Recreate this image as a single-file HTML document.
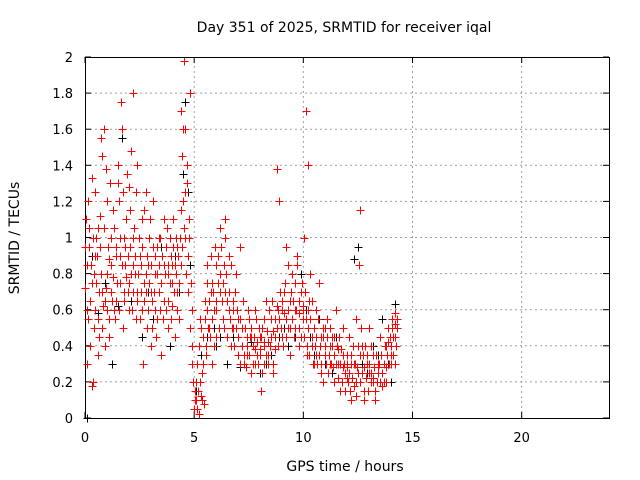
<!DOCTYPE html>
<html><head><meta charset="utf-8">
<style>
html,body{margin:0;padding:0;background:#fff;}
svg{display:block;font-family:"DejaVu Sans","Liberation Sans",sans-serif;font-size:13px;}
</style></head>
<body>
<svg id="chart" width="640" height="480">
<rect x="0" y="0" width="640" height="480" fill="#fff"/>
<text x="344" y="32" text-anchor="middle" font-size="14">Day 351 of 2025, SRMTID for receiver iqal</text>
<g id="grid"></g>
<g id="axes"></g>
<g id="marks"></g>
<text x="345" y="471" text-anchor="middle" font-size="14">GPS time / hours</text>
<text transform="translate(19,238) rotate(-90)" text-anchor="middle" font-size="14">SRMTID / TECUs</text>
</svg>
<script>
const xTicks=[0,5,10,15,20];
const yTicks=[0,0.2,0.4,0.6,0.8,1,1.2,1.4,1.6,1.8,2];
const yTickLabels=["0","0.2","0.4","0.6","0.8","1","1.2","1.4","1.6","1.8","2"];
const redTimes=[0,0.05,0.1,0.12,0.15,0.2,0.25,0.3,0.35,0.4,0.45,0.5,0.55,0.6,0.65,0.7,0.75,0.8,0.85,0.9,0.95,1.0,1.05,1.1,1.15,1.2,1.3,1.35,1.4,1.5,1.55,1.6,1.65,1.7,1.75,1.8,1.85,1.9,1.95,2.0,2.05,2.1,2.15,2.2,2.25,2.3,2.35,2.4,2.5,2.55,2.6,2.65,2.7,2.8,2.85,2.9,2.95,3.0,3.05,3.1,3.2,3.25,3.3,3.4,3.45,3.5,3.6,3.7,3.75,3.8,3.9,3.95,4.0,4.05,4.1,4.15,4.2,4.3,4.35,4.4,4.45,4.5,4.55,4.6,4.65,4.7,4.75,4.8,4.85,4.9,4.95,5.0,5.05,5.1,5.15,5.2,5.25,5.3,5.35,5.4,5.45,5.5,5.55,5.6,5.7,5.75,5.8,5.9,5.95,6.0,6.1,6.2,6.3,6.35,6.4,6.5,6.6,6.7,6.8,6.9,7.0,7.1,7.2,7.3,7.4,7.5,7.6,7.7,7.8,7.9,8.0,8.05,8.1,8.2,8.3,8.4,8.5,8.6,8.7,8.8,8.85,8.9,9.0,9.1,9.2,9.3,9.4,9.5,9.6,9.7,9.8,9.9,10.0,10.05,10.1,10.15,10.2,10.25,10.3,10.4,10.5,10.6,10.7,10.8,10.9,11.0,11.1,11.2,11.3,11.4,11.5,11.6,11.7,11.8,11.9,12.0,12.05,12.1,12.2,12.3,12.4,12.5,12.55,12.6,12.7,12.8,12.9,13.0,13.1,13.2,13.3,13.4,13.5,13.6,13.7,13.8,13.9,14.0,14.05,14.1,14.2,14.25,14.3,
0.1,0.3,0.45,0.6,0.8,1.0,1.2,1.4,1.6,1.8,2.0,2.2,2.4,2.6,2.8,3.0,3.2,3.4,3.6,3.8,4.0,4.2,4.4,4.6,5.6,5.8,6.0,6.2,6.4,6.6,6.8,7.0,7.2,7.4,7.6,7.8,8.0,8.2,8.4,8.6,8.8,9.0,9.2,9.4,9.6,9.8,10.0,10.2,10.4,10.6,10.8,11.0,11.2,11.4,11.6,11.8,12.0,12.2,12.4,12.6,12.8,13.0,13.2,13.4,13.6,13.8,14.0,14.2];
const redValues=[0.72,1.1,0.85,0.55,1.2,0.95,0.4,1.33,0.2,0.8,0.6,1.0,0.9,0.35,0.7,1.12,1.55,0.5,1.6,0.65,1.38,0.8,0.95,0.45,1.3,0.7,1.15,0.6,0.9,1.4,1.2,0.75,1.75,1.6,0.5,1.0,0.85,1.1,0.7,1.28,0.95,1.48,0.6,1.8,1.05,0.8,0.55,1.4,0.9,0.7,1.1,0.3,0.75,1.25,0.5,0.85,1.0,0.4,0.65,1.2,0.8,0.45,0.95,0.7,1.0,0.35,0.85,0.6,1.05,0.5,0.75,0.9,0.62,1.1,0.45,0.8,0.95,0.55,1.0,1.7,1.45,1.2,1.98,1.6,1.3,0.9,1.1,1.8,0.75,0.6,0.2,0.05,0.15,0.1,0.3,0.02,0.55,0.12,0.25,0.45,0.08,0.65,0.35,0.85,0.5,0.7,0.3,0.6,0.95,0.45,0.75,1.05,0.55,0.85,1.1,0.65,0.9,0.4,0.6,0.8,0.35,0.95,0.5,0.3,0.45,0.55,0.25,0.4,0.6,0.35,0.45,0.15,0.5,0.3,0.65,0.42,0.55,0.25,0.38,1.38,0.6,1.2,0.45,0.7,0.95,0.5,0.35,0.8,0.6,0.9,0.4,0.7,0.55,1.0,1.7,0.35,1.4,0.65,0.8,0.45,0.3,0.6,0.75,0.25,0.5,0.35,0.55,0.3,0.45,0.2,0.6,0.38,0.15,0.5,0.25,0.35,0.2,0.45,0.1,0.3,0.55,0.25,0.85,1.15,0.4,0.15,0.3,0.5,0.2,0.35,0.1,0.28,0.45,0.18,0.3,0.4,0.5,0.35,0.55,0.45,0.58,0.4,0.5,
0.6,0.75,0.9,0.55,0.7,0.6,0.85,0.65,0.9,0.7,0.75,0.85,0.7,0.6,0.8,0.7,0.6,0.85,0.65,0.8,0.75,0.7,0.85,1.0,0.6,0.75,0.65,0.8,0.7,0.6,0.5,0.55,0.4,0.35,0.45,0.3,0.38,0.42,0.35,0.48,0.5,0.6,0.55,0.65,0.5,0.58,0.62,0.5,0.4,0.35,0.45,0.5,0.4,0.35,0.3,0.28,0.22,0.3,0.2,0.35,0.28,0.25,0.22,0.3,0.25,0.2,0.3,0.45];
const redTimes2=[0.02,0.07,0.18,0.22,0.28,0.33,0.38,0.42,0.48,0.52,0.58,0.62,0.68,0.72,0.78,0.82,0.88,0.92,0.98,1.02,1.08,1.12,1.18,1.22,1.28,1.32,1.38,1.42,1.48,1.52,1.58,1.62,1.68,1.72,1.78,1.82,1.88,1.92,1.98,
2.02,2.08,2.12,2.18,2.22,2.28,2.32,2.38,2.42,2.48,2.52,2.58,2.62,2.68,2.72,2.78,2.82,2.88,2.92,2.98,3.02,3.08,3.12,3.18,3.22,3.28,3.32,3.38,3.42,3.48,3.52,3.58,3.62,3.68,3.72,3.78,3.82,3.88,3.92,3.98,4.02,4.08,4.12,4.18,4.22,4.28,4.32,4.38,4.42,4.48,4.52,4.58,4.62,4.68,4.72,4.78,4.82,4.88,4.92,
5.02,5.08,5.12,5.18,5.22,5.28,5.32,5.38,5.42,5.48,5.52,5.58,5.62,5.68,5.72,5.78,5.82,5.88,5.92,5.98,6.02,6.08,6.12,6.18,6.22,6.28,6.32,6.38,6.42,6.48,6.52,6.58,6.62,6.68,6.72,6.78,6.82,6.88,6.92,6.98,7.02,7.08,7.12,7.18,7.22,7.28,7.32,7.38,7.42,7.48,
7.52,7.58,7.62,7.68,7.72,7.78,7.82,7.88,7.92,7.98,8.02,8.08,8.12,8.18,8.22,8.28,8.32,8.38,8.42,8.48,8.52,8.58,8.62,8.68,8.72,8.78,8.82,8.88,8.92,8.98,9.02,9.08,9.12,9.18,9.22,9.28,9.32,9.38,9.42,9.48,9.52,9.58,9.62,9.68,9.72,9.78,9.82,9.88,9.92,9.98,
10.02,10.08,10.12,10.18,10.22,10.28,10.32,10.38,10.42,10.48,10.52,10.58,10.62,10.68,10.72,10.78,10.82,10.88,10.92,10.98,11.02,11.08,11.12,11.18,11.22,11.28,11.32,11.38,11.42,11.48,11.52,11.58,11.62,11.68,11.72,11.78,11.82,11.88,11.92,11.98,12.02,12.08,12.12,12.18,12.22,12.28,12.32,12.38,12.42,12.48,12.52,12.58,12.62,12.68,12.72,12.78,12.82,12.88,12.92,12.98,13.02,13.08,13.12,13.18,13.22,13.28,13.32,13.38,13.42,13.48,13.52,13.58,13.62,13.68,13.72,13.78,13.82,13.88,13.92,13.98,14.02,14.08,14.12,14.18,14.22,14.28];
const redValues2=[0.95,0.3,1.05,0.65,0.85,0.18,1.0,0.5,1.25,0.75,1.05,0.45,0.95,0.8,1.45,0.62,1.05,0.4,0.72,1.2,0.55,0.88,1.0,0.65,0.78,1.05,0.55,0.95,0.75,1.3,0.6,1.0,0.85,1.25,0.65,0.95,0.78,1.35,0.9,
0.6,1.15,0.8,1.0,0.7,0.9,1.25,0.65,0.8,1.0,0.55,0.85,0.95,0.65,1.15,0.7,0.9,0.6,0.75,1.1,0.85,0.5,0.95,0.7,0.9,0.55,0.8,1.0,0.6,0.75,0.9,0.55,1.1,0.8,0.95,0.65,0.85,1.0,0.55,0.85,0.95,0.7,0.85,1.0,0.6,0.9,0.75,1.15,0.95,1.6,1.05,1.25,0.8,1.4,0.7,1.0,0.5,0.4,0.3,
0.1,0.2,0.05,0.15,0.4,0.2,0.5,0.1,0.3,0.55,0.4,0.75,0.5,0.65,0.45,0.9,0.55,0.7,0.4,0.85,0.6,0.9,0.5,0.7,0.95,0.65,0.75,0.5,1.0,0.8,0.45,0.7,0.55,0.85,0.5,0.65,0.4,0.7,0.5,0.6,0.45,0.3,0.55,0.4,0.65,0.35,0.5,0.28,0.4,0.6,
0.35,0.45,0.5,0.3,0.45,0.38,0.55,0.42,0.3,0.5,0.35,0.45,0.25,0.4,0.55,0.35,0.48,0.3,0.6,0.4,0.45,0.65,0.3,0.55,0.45,0.62,0.4,0.55,0.7,0.5,0.65,0.4,0.58,0.75,0.45,0.6,0.85,0.5,0.7,0.55,0.65,0.45,0.75,0.6,0.85,0.5,0.65,0.45,0.75,0.6,
0.45,0.7,0.55,0.4,0.6,0.35,0.55,0.65,0.3,0.5,0.4,0.45,0.3,0.55,0.35,0.4,0.3,0.45,0.2,0.4,0.3,0.45,0.25,0.35,0.5,0.3,0.4,0.28,0.45,0.3,0.4,0.22,0.45,0.3,0.38,0.2,0.35,0.3,0.15,0.28,0.3,0.25,0.15,0.35,0.22,0.4,0.18,0.3,0.12,0.28,0.4,0.2,0.5,0.25,0.35,0.1,0.4,0.22,0.35,0.15,0.3,0.25,0.4,0.2,0.28,0.15,0.35,0.2,0.25,0.3,0.2,0.35,0.25,0.2,0.4,0.28,0.35,0.42,0.3,0.45,0.4,0.5,0.35,0.52,0.3,0.55];
const blackTimes=[0.1,0.6,1.25,1.7,2.1,2.6,3.1,3.5,3.9,4.5,4.6,4.8,5.3,5.9,6.5,7.1,7.6,8.3,8.9,9.3,9.9,10.3,10.7,11.3,11.7,12.3,12.5,12.7,13.2,13.6,14.2,14.0,8.0,6.2,
0.3,0.9,1.5,2.3,2.9,3.3,3.7,4.1,4.3,4.7,5.1,5.6,6.0,6.8,7.3,7.8,8.5,9.1,9.6,10.1,10.5,11.0,11.5,12.0,12.9,13.4,13.9];
const blackValues=[0.0,0.58,0.3,1.55,0.65,0.45,0.55,0.95,0.4,1.35,1.75,0.85,0.35,0.5,0.3,0.28,0.42,0.3,0.45,0.4,0.8,0.45,0.55,0.25,0.3,0.88,0.95,0.3,0.4,0.55,0.63,0.2,0.25,0.45,
0.9,0.75,0.62,0.8,0.7,0.8,0.6,0.9,0.7,1.25,0.15,0.45,0.4,0.45,0.35,0.3,0.35,0.5,0.45,0.6,0.35,0.3,0.45,0.3,0.25,0.35,0.3];

const X0=85,X1=609,Y0=418,Y1=57,XMAX=24,YMAX=2;
const sx=t=>X0+(X1-X0)*t/XMAX;
const sy=v=>Y0-(Y0-Y1)*v/YMAX;
const NS="http://www.w3.org/2000/svg";
const grid=document.getElementById('grid'),axes=document.getElementById('axes'),marks=document.getElementById('marks');
function mk(tag,attrs,parent){const e=document.createElementNS(NS,tag);for(const k in attrs)e.setAttribute(k,attrs[k]);parent.appendChild(e);return e;}
yTicks.forEach((v,i)=>{
  const y=sy(v);
  if(v>0&&v<YMAX){const g=mk('line',{x1:X0,x2:X1,y1:y,y2:y,stroke:'#a0a0a0','stroke-width':1,'stroke-dasharray':'2,3'},grid);
  
  }
  mk('line',{x1:X0,x2:X0+6,y1:y,y2:y,stroke:'#000'},axes);
  mk('line',{x1:X1,x2:X1-6,y1:y,y2:y,stroke:'#000'},axes);
  const t=mk('text',{x:X0-12,y:y+5,'text-anchor':'end'},axes);t.textContent=yTickLabels[i];
  
  
});
xTicks.forEach(v=>{
  const x=sx(v);
  if(v>0){const g=mk('line',{x1:x,x2:x,y1:Y0,y2:Y1,stroke:'#a0a0a0','stroke-width':1,'stroke-dasharray':'2,3'},grid);
  
  }
  mk('line',{x1:x,x2:x,y1:Y0,y2:Y0-6,stroke:'#000'},axes);
  mk('line',{x1:x,x2:x,y1:Y1,y2:Y1+6,stroke:'#000'},axes);
  const t=mk('text',{x:x,y:Y0+24,'text-anchor':'middle'},axes);t.textContent=String(v);
  
  
});
const fr=mk('rect',{x:X0+0.5,y:Y1+0.5,width:X1-X0,height:Y0-Y1,fill:'none',stroke:'#000'},axes);


function plus(t,v,color,name){
  const x=Math.round(sx(t))+0.5,y=Math.round(sy(v))+0.5;
  const p=mk('path',{d:`M${x-4} ${y}H${x+4}M${x} ${y-4}V${y+4}`,stroke:color,'stroke-width':1,fill:'none'},marks);
  
  
}
blackTimes.forEach((t,i)=>plus(t,blackValues[i],'#000','black-point'));
redTimes.forEach((t,i)=>plus(t,redValues[i],'#f00','red-point'));
redTimes2.forEach((t,i)=>plus(t,redValues2[i],'#f00','red-point'));
</script>
</body></html>
